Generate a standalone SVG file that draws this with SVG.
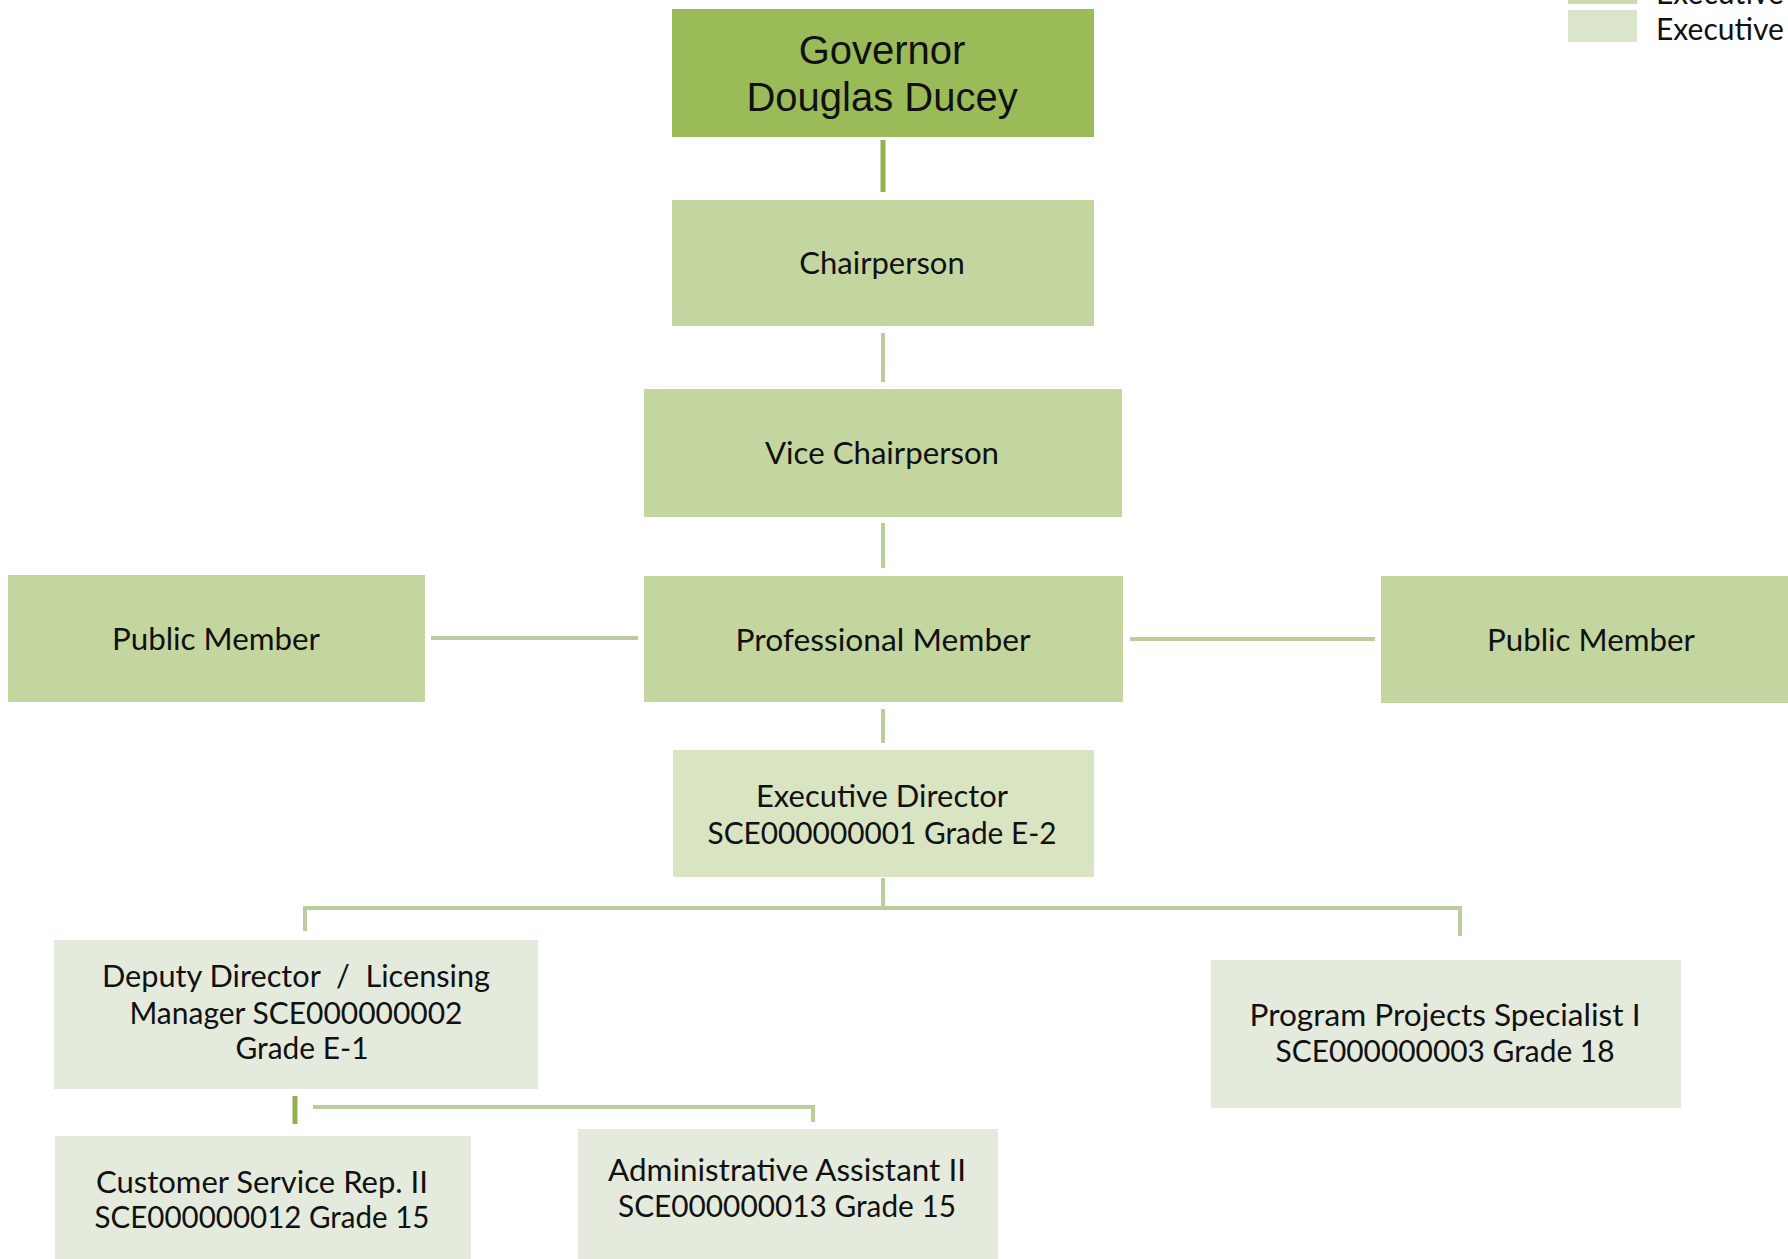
<svg xmlns="http://www.w3.org/2000/svg" width="1788" height="1259" viewBox="0 0 1788 1259">
  <style>
    .gov { fill: #9bbb59; }
    .board { fill: #c4d6a0; }
    .exec { fill: #d8e4c2; }
    .staff { fill: #e4eadc; }
    .t { font-family: Lato, "Liberation Sans", sans-serif; font-size: 31px; fill: #111; text-anchor: middle; }
    .tg { font-family: "Liberation Sans", Arial, sans-serif; font-size: 40px; fill: #111; text-anchor: middle; }
    .lg { font-family: Lato, "Liberation Sans", sans-serif; font-size: 30px; fill: #111; }
    .ln { stroke: #bccd9c; stroke-width: 4; fill: none; }
    .ln-dark { stroke: #93b24f; stroke-width: 5; fill: none; }
  </style>

  <rect width="1788" height="1259" fill="#ffffff"/>

  <!-- legend (top entry runs off the top edge) -->
  <g id="legend">
    <rect x="1568" y="-10" width="69" height="14" fill="#cdd9b0"/>
    <text class="lg" x="1656" y="4">Executive</text>
    <rect x="1568" y="10" width="69" height="32" fill="#dbe5cc"/>
    <text class="lg" x="1656" y="40">Executive</text>
  </g>

  <!-- connectors -->
  <g id="connectors">
    <line class="ln-dark" x1="883" y1="140" x2="883" y2="192"/>
    <line class="ln" x1="883" y1="333" x2="883" y2="382"/>
    <line class="ln" x1="883" y1="523" x2="883" y2="568"/>
    <line class="ln" x1="431" y1="638" x2="638" y2="638"/>
    <line class="ln" x1="1130" y1="639" x2="1375" y2="639"/>
    <line class="ln" x1="883" y1="709" x2="883" y2="743"/>
    <polyline class="ln" points="883,878 883,908"/>
    <polyline class="ln" points="305,931 305,908 1460,908 1460,936"/>
    <line class="ln-dark" x1="295" y1="1096" x2="295" y2="1124"/>
    <polyline class="ln" points="313,1107 813,1107 813,1122"/>
  </g>

  <g id="governor">
    <rect class="gov" x="672" y="9" width="422" height="128"/>
    <text class="tg" x="882" y="64">Governor</text>
    <text class="tg" x="882" y="111">Douglas Ducey</text>
  </g>

  <g id="chairperson">
    <rect class="board" x="672" y="200" width="422" height="126"/>
    <text class="t" x="882" y="274">Chairperson</text>
  </g>

  <g id="vice-chairperson">
    <rect class="board" x="644" y="389" width="478" height="128"/>
    <text class="t" x="882" y="464" textLength="234" lengthAdjust="spacingAndGlyphs">Vice Chairperson</text>
  </g>

  <g id="public-member-left">
    <rect class="board" x="8" y="575" width="417" height="127"/>
    <text class="t" x="216" y="650" textLength="208" lengthAdjust="spacingAndGlyphs">Public Member</text>
  </g>

  <g id="professional-member">
    <rect class="board" x="644" y="576" width="479" height="126"/>
    <text class="t" x="883" y="651" textLength="295" lengthAdjust="spacingAndGlyphs">Professional Member</text>
  </g>

  <g id="public-member-right">
    <rect class="board" x="1381" y="576" width="420" height="127"/>
    <text class="t" x="1591" y="651" textLength="208" lengthAdjust="spacingAndGlyphs">Public Member</text>
  </g>

  <g id="executive-director">
    <rect class="exec" x="673" y="750" width="421" height="127"/>
    <text class="t" x="882" y="807" textLength="252" lengthAdjust="spacingAndGlyphs">Executive Director</text>
    <text class="t" x="882" y="844" textLength="349" lengthAdjust="spacingAndGlyphs">SCE000000001 Grade E-2</text>
  </g>

  <g id="deputy-director">
    <rect class="staff" x="54" y="940" width="484" height="149"/>
    <text class="t" x="296" y="987" xml:space="preserve" textLength="388" lengthAdjust="spacingAndGlyphs">Deputy Director  /  Licensing</text>
    <text class="t" x="296" y="1024" textLength="333" lengthAdjust="spacingAndGlyphs">Manager SCE000000002</text>
    <text class="t" x="302" y="1059" textLength="133" lengthAdjust="spacingAndGlyphs">Grade E-1</text>
  </g>

  <g id="program-projects-specialist">
    <rect class="staff" x="1211" y="960" width="470" height="148"/>
    <text class="t" x="1445" y="1026" textLength="391" lengthAdjust="spacingAndGlyphs">Program Projects Specialist I</text>
    <text class="t" x="1445" y="1062" textLength="339" lengthAdjust="spacingAndGlyphs">SCE000000003 Grade 18</text>
  </g>

  <g id="customer-service-rep">
    <rect class="staff" x="55" y="1136" width="416" height="130"/>
    <text class="t" x="262" y="1193" textLength="332" lengthAdjust="spacingAndGlyphs">Customer Service Rep. II</text>
    <text class="t" x="262" y="1228" textLength="335" lengthAdjust="spacingAndGlyphs">SCE000000012 Grade 15</text>
  </g>

  <g id="administrative-assistant">
    <rect class="staff" x="578" y="1129" width="420" height="137"/>
    <text class="t" x="787" y="1181" textLength="358" lengthAdjust="spacingAndGlyphs">Administrative Assistant II</text>
    <text class="t" x="787" y="1217" textLength="338" lengthAdjust="spacingAndGlyphs">SCE000000013 Grade 15</text>
  </g>
</svg>
